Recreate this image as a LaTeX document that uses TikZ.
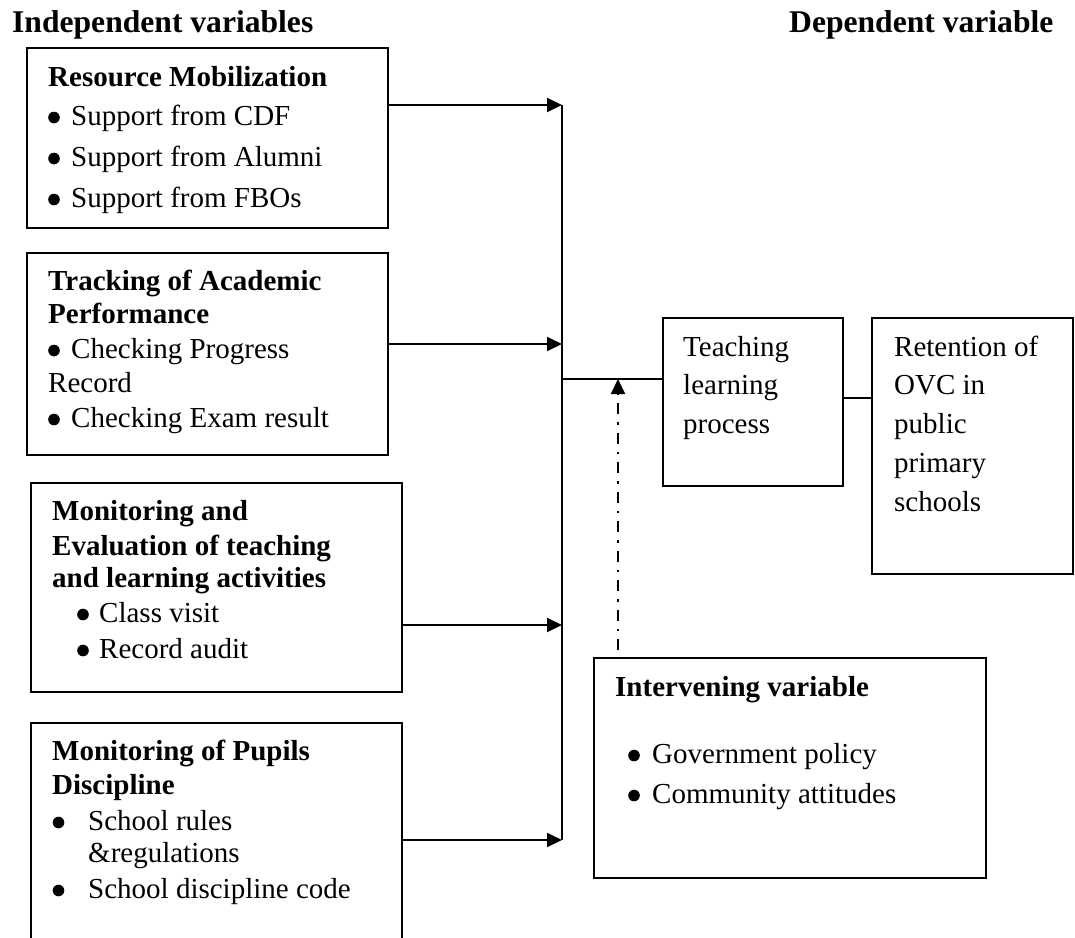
\documentclass[tikz,border=0pt]{standalone}
\usepackage{fontspec}
\setmainfont{Liberation Serif}
\usetikzlibrary{arrows.meta}
\begin{document}
\begin{tikzpicture}[x=1pt,y=-1pt,
  box/.style={draw, line width=1.9pt, inner sep=0pt, outer sep=0pt},
  hd/.style={anchor=base west, inner sep=0pt, font=\bfseries\fontsize{29}{35}\selectfont},
  top/.style={anchor=base west, inner sep=0pt, font=\bfseries\fontsize{31.6}{38}\selectfont},
  tx/.style={anchor=base west, inner sep=0pt, font=\fontsize{29}{35}\selectfont},
  bul/.style={fill=black},
  arr/.style={line width=1.9pt, -{Triangle[length=15pt,width=14pt]}},
  ln/.style={line width=1.7pt},
  dd/.style={line width=2pt, dash pattern=on 11pt off 8pt on 2.5pt off 8pt, -{Triangle[length=15pt,width=14pt]}}]
\useasboundingbox (0,0) rectangle (1075,937);
\clip (0,0) rectangle (1075,937);

% headers
\node[top] (hInd) at (12,32) {Independent variables};
\node[top] (hDep) at (789,32) {Dependent variable};

% boxes
\node[box, minimum width=361pt, minimum height=180pt] (b1) at (207.5,138) {};
\node[box, minimum width=361pt, minimum height=202pt] (b2) at (207.5,354) {};
\node[box, minimum width=371pt, minimum height=209pt] (b3) at (216.5,587.5) {};
\node[box, minimum width=371pt, minimum height=277pt] (b4) at (216.5,861.5) {};
\node[box, minimum width=180pt, minimum height=168pt] (teach) at (753,402) {};
\node[box, minimum width=201pt, minimum height=256pt] (ret) at (972.5,446) {};
\node[box, minimum width=392pt, minimum height=220pt] (inter) at (790,768) {};

% box 1 text
\node[hd] (t11) at (48,86) {Resource Mobilization};
\node[tx] (t12) at (71,125) {Support from CDF};
\node[tx] (t13) at (71,166) {Support from Alumni};
\node[tx] (t14) at (71,207) {Support from FBOs};
\fill[bul] (54,117.5) circle (5.8pt) (54,158.5) circle (5.8pt) (54,199.5) circle (5.8pt);

% box 2 text
\node[hd] (t21) at (48,290) {Tracking of Academic};
\node[hd] (t22) at (48,323) {Performance};
\node[tx] (t23) at (71,358) {Checking Progress};
\node[tx] (t24) at (48,392) {Record};
\node[tx] (t25) at (71,427) {Checking Exam result};
\fill[bul] (54,350.5) circle (5.8pt) (54,419.5) circle (5.8pt);

% box 3 text
\node[hd] (t31) at (52,520) {Monitoring and};
\node[hd] (t32) at (52,555) {Evaluation of teaching};
\node[hd] (t33) at (52,587) {and learning activities};
\node[tx] (t34) at (99,622) {Class visit};
\node[tx] (t35) at (99,658) {Record audit};
\fill[bul] (83,614.5) circle (5.8pt) (83,650.5) circle (5.8pt);

% box 4 text
\node[hd] (t41) at (52,760) {Monitoring of Pupils};
\node[hd] (t42) at (52,794) {Discipline};
\node[tx] (t43) at (88,830) {School rules};
\node[tx] (t44) at (88,862) {\&regulations};
\node[tx] (t45) at (88,898) {School discipline code};
\fill[bul] (58.5,822.5) circle (5.8pt) (58.5,890.5) circle (5.8pt);

% dependent boxes text
\node[tx] (tt1) at (683,356) {Teaching};
\node[tx] (tt2) at (683,394) {learning};
\node[tx] (tt3) at (683,433) {process};
\node[tx] (tr1) at (894,356) {Retention of};
\node[tx] (tr2) at (894,394) {OVC in};
\node[tx] (tr3) at (894,433) {public};
\node[tx] (tr4) at (894,472) {primary};
\node[tx] (tr5) at (894,511) {schools};

% intervening text
\node[hd] (ti1) at (615,696) {Intervening variable};
\node[tx] (ti2) at (652,763) {Government policy};
\node[tx] (ti3) at (652,803) {Community attitudes};
\fill[bul] (634,755.5) circle (5.8pt) (634,795.5) circle (5.8pt);

% junction coordinates
\coordinate (j1) at (562,105);
\coordinate (j2) at (562,344);
\coordinate (j3) at (562,625);
\coordinate (j4) at (562,840);
\coordinate (jm) at (562,379);
\coordinate (trl) at (858,398);
\coordinate (ddb) at (618,650);

% connectors
\draw[ln] (j1) -- (j4);
\draw[arr] (j1 -| b1.east) -- (j1);
\draw[arr] (j2 -| b2.east) -- (j2);
\draw[arr] (j3 -| b3.east) -- (j3);
\draw[arr] (j4 -| b4.east) -- (j4);
\draw[ln] (jm) -- (jm -| teach.west);
\draw[ln] (trl -| teach.east) -- (trl -| ret.west);
\draw[dd] (ddb) -- (ddb |- jm);
\end{tikzpicture}
\end{document}
